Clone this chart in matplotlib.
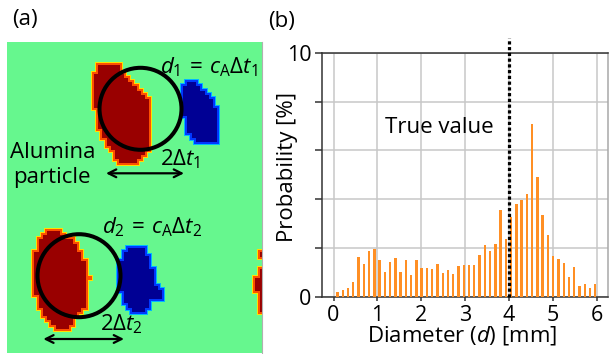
import numpy as np
import matplotlib
matplotlib.use('Agg')
import matplotlib.pyplot as plt
from matplotlib.path import Path
from matplotlib.colors import ListedColormap
from matplotlib.patches import Circle

plt.rcParams['font.family'] = ['Open Sans', 'DejaVu Sans']
plt.rcParams['mathtext.fontset'] = 'custom'
plt.rcParams['mathtext.rm'] = 'Open Sans'
plt.rcParams['mathtext.it'] = 'Open Sans:italic'
plt.rcParams['mathtext.bf'] = 'Open Sans:bold'

# ---- (b) histogram data ----
diameter_mm = [0.09, 0.21, 0.33, 0.45, 0.57, 0.69, 0.81, 0.93, 1.05, 1.17,
               1.29, 1.41, 1.53, 1.65, 1.77, 1.89, 2.01, 2.13, 2.25, 2.37,
               2.49, 2.61, 2.73, 2.85, 2.97, 3.09, 3.21, 3.33, 3.45, 3.57,
               3.69, 3.81, 3.93, 4.05, 4.17, 4.29, 4.41, 4.53, 4.65, 4.77,
               4.89, 5.01, 5.13, 5.25, 5.37, 5.49, 5.61, 5.73, 5.85, 5.97]
probability = [0.20, 0.29, 0.34, 0.60, 1.61, 1.32, 1.87, 1.95, 1.52, 1.02,
               1.41, 1.58, 1.02, 1.50, 0.87, 1.52, 1.17, 1.17, 1.15, 1.35,
               0.97, 1.09, 0.94, 1.26, 1.28, 1.30, 1.30, 1.69, 2.10, 1.87,
               2.18, 3.55, 2.38, 3.28, 3.80, 3.96, 4.19, 7.09, 4.89, 3.34,
               2.53, 1.67, 1.54, 1.39, 0.82, 1.23, 0.45, 0.51, 0.34, 0.51]
true_value = 4.0
x_ticks = [0, 1, 2, 3, 4, 5, 6]
y_ticks = [0, 2, 4, 6, 8, 10]
y_ticklabels = ['0', '', '', '', '', '10']

# ---- (a) illustration: blob outlines in picture pixels ----
red_blob_1 = [(95, 65), (121.7, 65), (123.3, 71.7), (126.7, 76.7), (133.3, 81.7),
              (141.7, 88.3), (146.7, 95), (150.7, 100), (152.7, 106.7), (152.7, 143.3),
              (150, 150), (145, 156), (138.3, 163.3), (118.3, 163.3), (113.3, 156.7),
              (106.7, 148.3), (100.7, 138.3), (96.7, 126.7), (94, 110), (92.7, 90),
              (93.3, 75)]
blue_blob_1 = [(186.7, 78.3), (195, 78.3), (198.3, 83.3), (208.3, 93.3), (215, 100),
               (218.3, 110), (220, 120), (219.3, 141.7), (195, 144), (190, 139.3),
               (186, 130), (181.7, 113.3), (180, 96.7), (183.3, 83.3)]
red_blob_2 = [(48.3, 230), (63.3, 230), (65, 234), (73.3, 238.3), (78.3, 243.3),
              (82.3, 250), (85.7, 258.3), (88.3, 270), (90, 278.3), (88.3, 296.7),
              (86.7, 306.7), (81.7, 314), (76.7, 320), (72.7, 326), (70, 331.7),
              (55, 331.7), (51.7, 326.7), (46.7, 321.7), (41.7, 315), (36.7, 305),
              (34, 293.3), (32.7, 280), (33.3, 263.3), (35, 248.3), (38.3, 240),
              (43.3, 235)]
blue_blob_2 = [(125, 247.3), (146.7, 247.3), (149.3, 252.7), (152.3, 260.7), (155, 270),
               (156.7, 281.7), (160.7, 286.7), (164, 294), (162.7, 300), (152.7, 303.3),
               (150.7, 310), (146.7, 314), (130, 314), (125, 308.3), (121.7, 300),
               (118.3, 286.7), (117.7, 270), (120, 256.7), (122.7, 250)]
red_blob_3 = [(263, 266), (256, 270), (255, 285), (256, 300), (258, 310), (263, 320)]
red_blob_4 = [(259, 249), (263, 249), (263, 259), (259, 257)]
circles = [(140.5, 108.8, 41), (79, 275.7, 41.5)]

field_colors = ['#000094', '#0038ff', '#00b8ff', '#66f78e', '#ffe000', '#ff5000', '#990000']


def grow(mask, r):
    h, w = mask.shape
    p = np.pad(mask, r)
    out = np.zeros_like(mask)
    for dy in range(-r, r + 1):
        for dx in range(-r, r + 1):
            out |= p[r + dy:r + dy + h, r + dx:r + dx + w]
    return out


def blob_mask(polys, gx, gy):
    pts = np.column_stack([gx.ravel(), gy.ravel()])
    m = np.zeros(gx.size, dtype=bool)
    for poly in polys:
        m |= Path(poly).contains_points(pts)
    return m.reshape(gx.shape)


x0, x1, y0, y1 = 7, 262, 42, 353
cell = 4.25
xs = np.arange(x0, x1) + 0.5
ys = np.arange(y0, y1) + 0.5
cx = x0 + (np.floor((xs - x0) / cell) + 0.5) * cell
cy = y0 + (np.floor((ys - y0) / cell) + 0.5) * cell
gx, gy = np.meshgrid(cx, cy)

red = blob_mask([red_blob_1, red_blob_2, red_blob_3, red_blob_4], gx, gy)
blue = blob_mask([blue_blob_1, blue_blob_2], gx, gy)

field = np.full(red.shape, 3)
field[grow(red, 1) & ~red] = 4
field[red] = 5
field[red & ~grow(~red, 2)] = 6
field[grow(blue, 1) & ~blue & ~red] = 2
field[blue] = 1
field[blue & ~grow(~blue, 2)] = 0

fig = plt.figure(figsize=(6.09, 3.54), dpi=100)

axa = fig.add_axes([x0 / 609, (354 - y1) / 354, (x1 - x0) / 609, (y1 - y0) / 354])
axa.imshow(field, cmap=ListedColormap(field_colors), vmin=-0.5, vmax=6.5,
           interpolation='nearest', extent=(x0, x1, y1, y0), aspect='auto')
axa.set_xlim(x0, x1)
axa.set_ylim(y1, y0)
axa.set_xticks([])
axa.set_yticks([])
for s in ['left', 'top', 'bottom']:
    axa.spines[s].set_visible(False)
axa.spines['right'].set_color('#b0b0b0')
for cxc, cyc, r in circles:
    axa.add_patch(Circle((cxc, cyc), r, fill=False, ec='black', lw=2.9, zorder=3))

fs = 16
axa.text(160, 73, r'$d_1\,=\,c_\mathrm{A}\Delta t_1$', fontsize=fs, va='baseline')
axa.text(160, 165, r'$2\Delta t_1$', fontsize=fs, va='baseline')
axa.text(10, 158, 'Alumina', fontsize=fs, va='baseline')
axa.text(13, 183, 'particle', fontsize=fs, va='baseline')
axa.text(101.7, 233, r'$d_2\,=\,c_\mathrm{A}\Delta t_2$', fontsize=fs, va='baseline')
axa.text(100, 330, r'$2\Delta t_2$', fontsize=fs, va='baseline')
arrow = dict(arrowstyle='<->', color='black', lw=1.6, mutation_scale=14, shrinkA=0, shrinkB=0)
axa.annotate('', xy=(184, 173.3), xytext=(106, 173.3), arrowprops=arrow)
axa.annotate('', xy=(124, 339), xytext=(43.3, 339), arrowprops=arrow)

fig.text(12 / 609, 1 - 20 / 354, '(a)', fontsize=fs, va='center', ha='left')
fig.text(268 / 609, 1 - 22 / 354, '(b)', fontsize=fs, va='center', ha='left')

# ---- (b) ----
ax = fig.add_axes([321.7 / 609, 57.3 / 354, 286.3 / 609, 244 / 354])
ax.bar(diameter_mm, probability, width=0.055, color='#ff8f24', zorder=3)
ax.plot([true_value, true_value], [0, 10.6], color='black', ls=(0, (1, 0.8)),
        lw=2.3, clip_on=False, zorder=4)
ax.text(2.41, 6.95, 'True value', fontsize=fs, ha='center', va='center')
ax.set_xlim(-0.27, 6.26)
ax.set_ylim(0, 10)
ax.set_xticks(x_ticks)
ax.set_yticks(y_ticks)
ax.set_yticklabels(y_ticklabels)
ax.grid(color='#c8c8c8', lw=1.1, zorder=0)
ax.set_axisbelow(True)
ax.tick_params(labelsize=15.5, color='#333333', width=1.1)
ax.tick_params(axis='y', length=5, pad=2.5)
ax.tick_params(axis='x', length=3, pad=3)
for s in ['left', 'bottom', 'top']:
    ax.spines[s].set_color('#333333')
    ax.spines[s].set_linewidth(1.1)
ax.spines['right'].set_color('#a8a8a8')
ax.spines['right'].set_linewidth(1.1)
ax.text(0.492, -0.184, r'Diameter ($d$) [mm]', fontsize=fs, ha='center', va='baseline',
        transform=ax.transAxes)
ax.text(-0.121, 0.53, 'Probability [%]', fontsize=fs, rotation=90, ha='center', va='center',
        transform=ax.transAxes)

fig.savefig('out.png', dpi=100)
